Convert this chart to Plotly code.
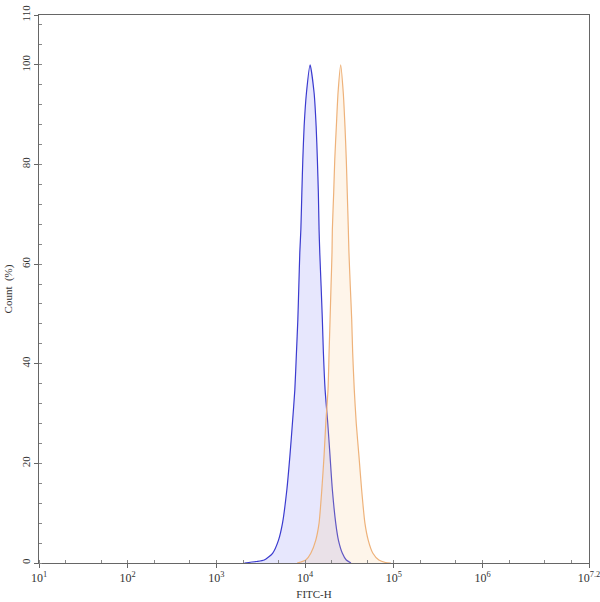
import plotly.graph_objects as go

# FITC-H intensity (linear) and count (%)
blue_x = [2065, 2793, 3459, 4295, 5012, 5559, 6223, 6730, 7194, 7656, 7980, 8279, 8492,
          8710, 8954, 9183, 9419, 9750, 10351, 11376, 12618, 13305, 13740, 14093, 14355,
          14622, 15136, 15631, 16069, 16788, 17989, 19099, 20277, 22131, 23714, 26303,
          29107, 32885]
blue_y = [0, 0.3, 0.6, 1.95, 4.6, 8.0, 14.7, 21.4, 28.1, 34.8, 42.2, 48.9, 55.6,
          62.3, 67.0, 74.3, 81.0, 87.7, 94.4, 100, 94.4, 87.7, 81.0, 74.3, 67.0,
          62.3, 55.6, 48.9, 42.2, 34.8, 28.1, 21.4, 14.7, 8.0, 4.6, 1.95,
          0.6, 0]

orange_x = [8128, 8954, 10186, 11588, 13183, 14355, 15417, 16331, 17100, 18113, 18621,
            19099, 19588, 20091, 20277, 20989, 21577, 22491, 23496, 25177, 26915, 28119,
            29107, 29854, 30690, 31189, 32284, 33497, 34356, 35810, 37670, 40458, 43351,
            47206, 51404, 58076, 67764, 80724, 92470]
orange_y = [0, 0.2, 0.6, 1.95, 4.6, 8.0, 14.7, 21.4, 28.1, 34.8, 42.2,
            48.9, 55.6, 62.3, 67.0, 74.3, 81.0, 87.7, 94.4, 100, 94.4, 87.7,
            81.0, 74.3, 67.0, 62.3, 55.6, 48.9, 42.2, 34.8, 28.1, 21.4, 14.7,
            8.0, 4.6, 1.95, 0.6, 0.1, 0]

x_tickvals = [10, 100, 1000, 10000, 100000, 1000000, 15848000]
x_ticktext = ["10<sup>1</sup>", "10<sup>2</sup>", "10<sup>3</sup>", "10<sup>4</sup>",
              "10<sup>5</sup>", "10<sup>6</sup>", "10<sup>7.2</sup>"]
y_tickvals = [0, 20, 40, 60, 80, 100, 110]

fig = go.Figure()
fig.add_trace(go.Scatter(
    x=blue_x, y=blue_y, mode="lines", line=dict(color="#3b3bcf", width=1.2, shape="spline", smoothing=0.6),
    fill="tozeroy", fillcolor="rgba(110,110,245,0.17)", showlegend=False, hoverinfo="skip"))
fig.add_trace(go.Scatter(
    x=orange_x, y=orange_y, mode="lines", line=dict(color="#eeb27a", width=1.2, shape="spline", smoothing=0.6),
    fill="tozeroy", fillcolor="rgba(250,205,150,0.2)", showlegend=False, hoverinfo="skip"))

font = dict(family="Liberation Serif, Times New Roman, serif", size=11, color="#333333")
tfont = dict(family="Liberation Serif, Times New Roman, serif", size=12, color="#333333")
fig.update_layout(
    width=600, height=602,
    margin=dict(l=39, r=11, t=15, b=39, autoexpand=False),
    paper_bgcolor="white", plot_bgcolor="white",
    font=font,
    xaxis=dict(
        type="log", range=[1, 7.2], tickvals=x_tickvals, ticktext=x_ticktext,
        showgrid=False, zeroline=False, showline=True, linecolor="#666666", linewidth=1,
        mirror=True, ticks="outside", ticklen=4, tickcolor="#666666",
        minor=dict(ticks="inside", ticklen=3, tickcolor="#888888", showgrid=False),
        title=dict(text="FITC-H", font=font, standoff=5),
        tickfont=tfont, automargin=False, ticklabeloverflow="allow",
    ),
    yaxis=dict(
        range=[0, 110], tickvals=y_tickvals, tickangle=-90,
        showgrid=False, zeroline=False, showline=True, linecolor="#666666", linewidth=1,
        mirror=True, ticks="outside", ticklen=4, tickcolor="#666666",
        minor=dict(dtick=4, tick0=0, ticks="inside", ticklen=3, tickcolor="#888888", showgrid=False),
        title=dict(text="Count  (%)", font=font, standoff=4),
        tickfont=font, automargin=False, ticklabeloverflow="allow",
    ),
)
fig.write_html("out.html")
